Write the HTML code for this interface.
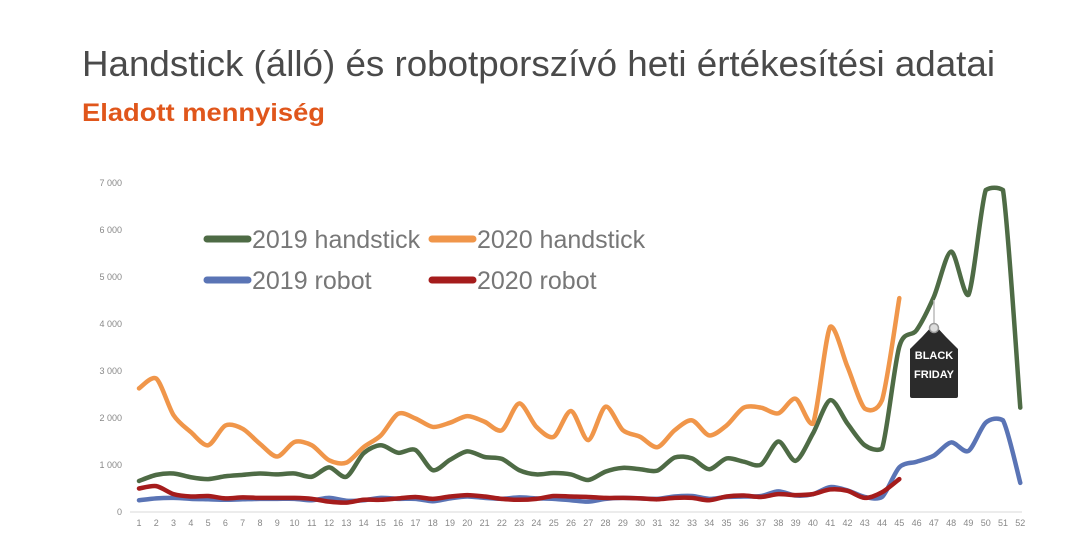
<!DOCTYPE html>
<html><head><meta charset="utf-8"><style>
html,body{margin:0;padding:0;background:#fff;}
svg{display:block;font-family:"Liberation Sans",sans-serif;}
</style></head><body>
<svg id="chart" width="1080" height="540" viewBox="0 0 1080 540">
<text x="82" y="76" font-size="36" fill="#4a4a4a" textLength="913" lengthAdjust="spacingAndGlyphs">Handstick (álló) és robotporszívó heti értékesítési adatai</text>
<text x="82" y="121" font-size="25" font-weight="bold" fill="#e0561b" textLength="243" lengthAdjust="spacingAndGlyphs">Eladott mennyiség</text>
<g id="axes"></g>
<g id="series"></g>
<g>
<g><line x1="207" y1="239" x2="248" y2="239" stroke="#4e6b45" stroke-width="7" stroke-linecap="round"/><text x="252" y="248" font-size="25" fill="#777">2019 handstick</text></g>
<g><line x1="432" y1="239" x2="473" y2="239" stroke="#f0964a" stroke-width="7" stroke-linecap="round"/><text x="477" y="248" font-size="25" fill="#777">2020 handstick</text></g>
<g><line x1="207" y1="280" x2="248" y2="280" stroke="#5a74b5" stroke-width="7" stroke-linecap="round"/><text x="252" y="289" font-size="25" fill="#777">2019 robot</text></g>
<g><line x1="432" y1="280" x2="473" y2="280" stroke="#a51c1c" stroke-width="7" stroke-linecap="round"/><text x="477" y="289" font-size="25" fill="#777">2020 robot</text></g>
</g>
<g>
<line x1="934" y1="300" x2="934" y2="325" stroke="#bbb" stroke-width="1.5"/>
<path d="M922,337 L934,324 L946,337 L958,349 L958,396 Q958,398 956,398 L912,398 Q910,398 910,396 L910,349 Z" fill="#2b2b2b"/>
<circle cx="934" cy="328" r="4.5" fill="#ddd" stroke="#999" stroke-width="1.5"/>
<text x="934" y="359" font-size="11" font-weight="bold" fill="#fff" text-anchor="middle">BLACK</text>
<text x="934" y="378" font-size="11" font-weight="bold" fill="#fff" text-anchor="middle">FRIDAY</text>
</g>
</svg>
<script>
const weeks = Array.from({length:52},(_,i)=>i+1);
const yTicks = [0,1000,2000,3000,4000,5000,6000,7000];
const yTickLabels = ["0","1 000","2 000","3 000","4 000","5 000","6 000","7 000"];
const handstick2019 = [660,790,820,740,700,760,790,820,800,820,750,950,750,1250,1420,1260,1320,890,1110,1290,1170,1130,890,800,830,800,680,860,940,910,880,1160,1140,910,1140,1070,1010,1500,1090,1670,2380,1880,1420,1350,3520,3870,4580,5540,4620,6850,6850,2220];
const handstick2020 = [2630,2840,2060,1700,1420,1840,1770,1450,1180,1490,1420,1100,1050,1380,1630,2090,1990,1810,1900,2040,1920,1740,2310,1810,1600,2150,1530,2240,1740,1600,1380,1740,1950,1630,1840,2220,2220,2100,2410,1880,3940,3090,2200,2380,4550];
const robot2019 = [250,290,300,280,270,260,270,280,280,280,250,300,240,250,300,280,280,230,290,330,300,280,310,290,280,250,220,280,300,290,280,330,340,280,320,330,340,440,350,380,530,460,320,320,950,1070,1200,1480,1300,1900,1950,620];
const robot2020 = [500,550,380,330,340,290,310,300,300,300,280,220,200,260,260,290,320,280,330,360,330,280,260,280,340,330,320,300,300,290,270,300,300,250,330,350,320,380,360,380,480,450,300,420,700];

const NS="http://www.w3.org/2000/svg";
const x = w => 139 + (w-1)*17.28;
const y = v => 512 - v*0.047;
const axes=document.getElementById('axes'), series=document.getElementById('series');
function mk(tag,attrs,parent){const e=document.createElementNS(NS,tag);for(const k in attrs)e.setAttribute(k,attrs[k]);parent.appendChild(e);return e;}

const base=mk('line',{x1:130,x2:1022,y1:y(0),y2:y(0),stroke:'#d9d9d9','stroke-width':1},axes);


yTicks.forEach((t,i)=>{
  const tx=mk('text',{x:122,y:y(t)+3,'font-size':9,fill:'#888','text-anchor':'end'},axes);
  tx.textContent=yTickLabels[i];
  
  
});
weeks.forEach(w=>{
  const tx=mk('text',{x:x(w),y:526,'font-size':9,fill:'#888','text-anchor':'middle'},axes);
  tx.textContent=String(w);
  
  
});
function smooth(vals){
  const p=vals.map((v,i)=>[x(i+1),y(v)]);
  const k=7;
  const clamp=(v,a,b)=>Math.max(Math.min(a,b)-3,Math.min(Math.max(a,b)+3,v));
  let d=`M${p[0][0]},${p[0][1]}`;
  for(let i=0;i<p.length-1;i++){
    const p0=p[i-1]||p[i],p1=p[i],p2=p[i+1],p3=p[i+2]||p2;
    const c1=[p1[0]+(p2[0]-p0[0])/k,clamp(p1[1]+(p2[1]-p0[1])/k,p1[1],p2[1])];
    const c2=[p2[0]-(p3[0]-p1[0])/k,clamp(p2[1]-(p3[1]-p1[1])/k,p1[1],p2[1])];
    d+=` C${c1[0]},${c1[1]} ${c2[0]},${c2[1]} ${p2[0]},${p2[1]}`;
  }
  return d;
}
[[robot2019,'#5a74b5','line-2019-robot'],[robot2020,'#a51c1c','line-2020-robot'],[handstick2019,'#4e6b45','line-2019-handstick'],[handstick2020,'#f0964a','line-2020-handstick']].forEach(([vals,col,name])=>{
  const pth=mk('path',{d:smooth(vals),fill:'none',stroke:col,'stroke-width':4.5,'stroke-linejoin':'round','stroke-linecap':'round'},series);
  
  
});
</script>
</body></html>
